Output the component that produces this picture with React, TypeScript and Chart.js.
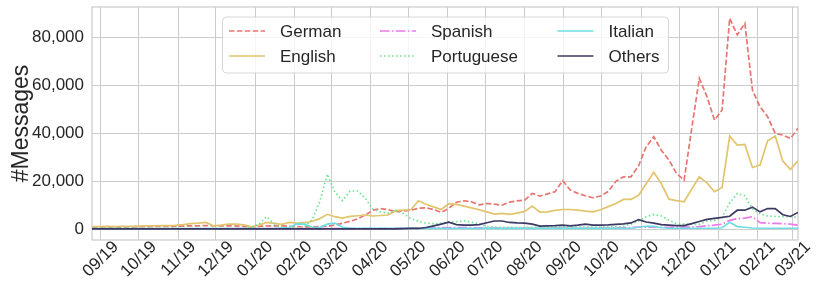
import React, { useEffect, useRef } from 'react';
import { Chart, registerables } from 'chart.js';

Chart.register(...registerables);

// ---- data ----
const seriesNames = ['German', 'English', 'Spanish', 'Portuguese', 'Italian', 'Others'];

// one value every 6 days, first point 7 days before 2019-09-01
const firstDay = -7;
const stepDays = 6;

const german = [
  1000, 1000, 900, 1000, 1000, 1100, 1100, 1200, 1200, 1300, 1300, 1300, 1400, 1500, 1500, 1600, 1500, 1500,
  1500, 1400, 1300, 1000, 1300, 1500, 1500, 1500, 1300, 1200, 1100, 1100, 1200, 1300, 1800,
  2600, 3400, 4400, 6000, 8000, 8700, 8200, 7400, 7700, 8000, 8800, 9000, 8300, 7100, 8800,
  11300, 11900, 11500, 10200, 10800, 10500, 10100, 11400, 11900, 12200, 15000, 13900, 14800, 15700, 20300,
  16400, 15000, 14000, 13200, 13900, 15800, 20000, 21900, 21900, 26500, 34400, 38600, 33000, 28900, 23300,
  20500, 42000, 62900, 55300, 45500, 49700, 87900, 81000, 85800, 58000, 51100, 46900, 40000, 39300, 37900, 42100,
];
const english = [
  1200, 1200, 1300, 1200, 1300, 1300, 1400, 1500, 1500, 1600, 1600, 1700, 2000, 2400, 2600, 2900, 1500, 1800,
  2200, 2200, 1900, 1100, 1800, 2900, 2500, 2100, 2900, 2600, 2800, 3300, 4500, 6300, 5300,
  4700, 5400, 5700, 6000, 5600, 5800, 6000, 7800, 8000, 8200, 11900, 10500, 9400, 8300, 10700,
  10400, 9700, 9000, 8200, 7300, 6400, 6700, 6300, 6800, 7500, 9700, 7200, 7300, 7900, 8300,
  8300, 8000, 7600, 7300, 8200, 9500, 10800, 12500, 12500, 14200, 19000, 23800, 19000, 12600, 12000,
  11500, 16800, 21900, 19400, 15700, 17500, 38900, 35100, 35400, 25800, 26800, 36900, 38900, 28500, 25000, 28600,
];
const spanish = [
  200, 200, 200, 200, 200, 200, 200, 200, 200, 200, 200, 200, 200, 200, 200, 200, 200, 200,
  300, 300, 300, 300, 300, 300, 300, 300, 300, 300, 300, 300, 300, 300, 300,
  300, 300, 300, 300, 300, 300, 300, 400, 400, 500, 500, 600, 700, 800, 800,
  800, 800, 700, 700, 600, 600, 500, 500, 500, 500, 500, 500, 500, 600, 600,
  500, 500, 500, 500, 500, 600, 600, 700, 800, 1000, 1000, 900, 900, 900, 1000,
  1000, 1000, 1200, 1500, 1800, 2200, 3800, 4500, 4700, 5300, 2800, 2600, 2500, 2400, 2200, 1800,
];
const portuguese = [
  300, 300, 300, 300, 300, 300, 300, 300, 300, 300, 300, 300, 300, 300, 300, 300, 300, 300,
  300, 300, 400, 900, 2200, 5300, 2300, 900, 700, 800, 1200, 4000, 11500, 23000, 15500,
  12000, 16000, 16000, 13000, 8400, 7300, 6800, 7900, 6600, 4500, 3400, 2600, 2400, 2500, 3200,
  3200, 3600, 3000, 2300, 1200, 900, 900, 900, 800, 800, 900, 900, 900, 1000, 1000,
  1000, 1000, 1000, 1000, 1000, 1000, 1100, 1300, 2200, 3500, 5300, 6200, 5600, 3800, 2400,
  2200, 2200, 2100, 3500, 3800, 5000, 11000, 15000, 14000, 8500, 6400, 5600, 5400, 5300, 5400, 4800,
];
const italian = [
  300, 300, 300, 300, 300, 300, 300, 300, 300, 300, 300, 300, 300, 300, 300, 300, 300, 300,
  300, 300, 300, 300, 300, 300, 400, 600, 800, 2300, 2200, 900, 800, 2200, 2600,
  900, 600, 500, 400, 400, 400, 400, 400, 400, 400, 400, 400, 400, 400, 400,
  400, 400, 400, 400, 400, 400, 400, 400, 400, 400, 400, 400, 400, 400, 400,
  400, 400, 400, 400, 400, 400, 400, 400, 500, 900, 1400, 1300, 700, 500, 500,
  500, 500, 500, 500, 500, 700, 3000, 1200, 900, 600, 500, 500, 500, 500, 500, 500,
];
const others = [
  200, 200, 200, 200, 200, 200, 200, 200, 200, 200, 200, 200, 200, 200, 200, 200, 200, 200,
  200, 200, 200, 200, 200, 200, 200, 200, 200, 200, 200, 200, 200, 200, 200,
  200, 200, 200, 200, 200, 200, 200, 250, 300, 400, 400, 800, 1500, 2200, 3000,
  2000, 1800, 1800, 2000, 2800, 3500, 3500, 2900, 2700, 2600, 2200, 1400, 1500, 1600, 1800,
  1500, 1800, 2200, 1800, 1800, 1900, 2100, 2300, 2700, 4100, 3100, 2600, 2000, 1800, 1600,
  1600, 2400, 3300, 4200, 4600, 5000, 5500, 8000, 8000, 9300, 7300, 8700, 8700, 6100, 5400, 7100,
];

const monthLabels = [
  '09/19', '10/19', '11/19', '12/19', '01/20', '02/20', '03/20', '04/20', '05/20', '06/20',
  '07/20', '08/20', '09/20', '10/20', '11/20', '12/20', '01/21', '02/21', '03/21',
];
const yTickValues = [0, 20000, 40000, 60000, 80000];

// ---- styles ----
const seriesValues = [german, english, spanish, portuguese, italian, others];
const seriesColors = [
  'rgb(232,118,112)',
  'rgb(226,196,108)',
  'rgb(236,120,236)',
  'rgb(110,226,140)',
  'rgb(110,222,228)',
  'rgb(60,58,100)',
];
const seriesDash: number[][] = [
  [5.5, 2.4],
  [],
  [9.6, 2.4, 1.5, 2.4],
  [1.5, 2.5],
  [],
  [],
];

const FONT = '"Liberation Sans", Arial, sans-serif';
const TEXT = '#262626';
const GRID = '#cccccc';

const dayOf = (label: string) => {
  const [mm, yy] = label.split('/').map(Number);
  return (Date.UTC(2000 + yy, mm - 1, 1) - Date.UTC(2019, 8, 1)) / 86400000;
};
const monthDays = monthLabels.map(dayOf);

const frameAndLegend = {
  id: 'frameAndLegend',
  beforeDatasetsDraw(chart: any) {
    const { ctx, chartArea } = chart;
    ctx.save();
    ctx.strokeStyle = GRID;
    ctx.lineWidth = 1.25;
    ctx.strokeRect(chartArea.left, chartArea.top, chartArea.right - chartArea.left, chartArea.bottom - chartArea.top);
    ctx.restore();
  },
  afterDatasetsDraw(chart: any) {
    const { ctx } = chart;
    ctx.save();
    const bx = 222.5, by = 17, bw = 446, bh = 56;
    ctx.beginPath();
    if ((ctx as any).roundRect) (ctx as any).roundRect(bx, by, bw, bh, 4);
    else ctx.rect(bx, by, bw, bh);
    ctx.fillStyle = 'rgba(255,255,255,0.8)';
    ctx.fill();
    ctx.strokeStyle = 'rgba(204,204,204,0.8)';
    ctx.lineWidth = 1;
    ctx.stroke();
    const cols = [229, 380, 557.5];
    const rows = [31, 56];
    chart.data.datasets.forEach((ds: any, i: number) => {
      const cx = cols[Math.floor(i / 2)];
      const cy = rows[i % 2];
      ctx.beginPath();
      ctx.setLineDash(ds.borderDash || []);
      ctx.strokeStyle = ds.borderColor;
      ctx.lineWidth = ds.borderWidth;
      ctx.moveTo(cx, cy);
      ctx.lineTo(cx + 36, cy);
      ctx.stroke();
      ctx.setLineDash([]);
      ctx.fillStyle = TEXT;
      ctx.font = `17px ${FONT}`;
      ctx.textBaseline = 'middle';
      ctx.textAlign = 'left';
      ctx.fillText(ds.label, cx + 51, cy + 1);
    });
    ctx.restore();
  },
};

export default function App() {
  const ref = useRef<HTMLCanvasElement>(null);
  useEffect(() => {
    const canvas = ref.current;
    if (!canvas) return;
    const datasets = seriesNames.map((name, i) => ({
      label: name,
      data: seriesValues[i].map((v, k) => ({ x: firstDay + k * stepDays, y: v })),
      borderColor: seriesColors[i],
      backgroundColor: seriesColors[i],
      borderWidth: 1.7,
      borderDash: seriesDash[i],
      pointRadius: 0,
      tension: 0,
      fill: false,
      order: seriesNames.length - 1 - i,
    }));
    const lastX = firstDay + (german.length - 1) * stepDays;
    const chart = new Chart(canvas, {
      type: 'line',
      data: { datasets },
      plugins: [frameAndLegend],
      options: {
        animation: false,
        responsive: false,
        maintainAspectRatio: false,
        layout: { padding: { top: 7, right: 24, left: 0, bottom: 0 } },
        plugins: { legend: { display: false }, tooltip: { enabled: false } },
        scales: {
          x: {
            type: 'linear',
            min: firstDay,
            max: lastX,
            grid: { color: GRID, lineWidth: 1, drawTicks: false },
            border: { display: false },
            afterBuildTicks: (scale: any) => {
              scale.ticks = monthDays.map((v) => ({ value: v }));
            },
            afterFit: (scale: any) => {
              scale.height = 54;
              scale.paddingLeft = 0;
              scale.paddingRight = 0;
              scale.paddingTop = 0;
              scale.paddingBottom = 0;
            },
            ticks: {
              autoSkip: false,
              maxRotation: 45,
              minRotation: 45,
              padding: -3,
              labelOffset: 15,
              color: TEXT,
              font: { family: FONT, size: 17 },
              callback: (_v: any, idx: number) => monthLabels[idx],
            },
          },
          y: {
            type: 'linear',
            min: -4400,
            max: 92600,
            grid: { color: GRID, lineWidth: 1, drawTicks: false },
            border: { display: false },
            afterBuildTicks: (scale: any) => {
              scale.ticks = yTickValues.map((v) => ({ value: v }));
            },
            afterFit: (scale: any) => {
              scale.width = 92;
              scale.paddingTop = 0;
              scale.paddingBottom = 0;
              scale.paddingLeft = 0;
              scale.paddingRight = 0;
            },
            ticks: {
              padding: 8,
              color: TEXT,
              font: { family: FONT, size: 17 },
              callback: (v: any) => Number(v).toLocaleString('en-US'),
            },
            title: {
              display: true,
              text: '#Messages',
              color: TEXT,
              font: { family: FONT, size: 23 },
              padding: { top: 8, bottom: 0 },
            },
          },
        },
      },
    });
    return () => chart.destroy();
  }, []);
  return (
    <div style={{ position: 'fixed', left: 0, top: 0, width: 822, height: 294, background: '#fff' }}>
      <canvas ref={ref} width={822} height={294} style={{ width: 822, height: 294, display: 'block' }} />
    </div>
  );
}
